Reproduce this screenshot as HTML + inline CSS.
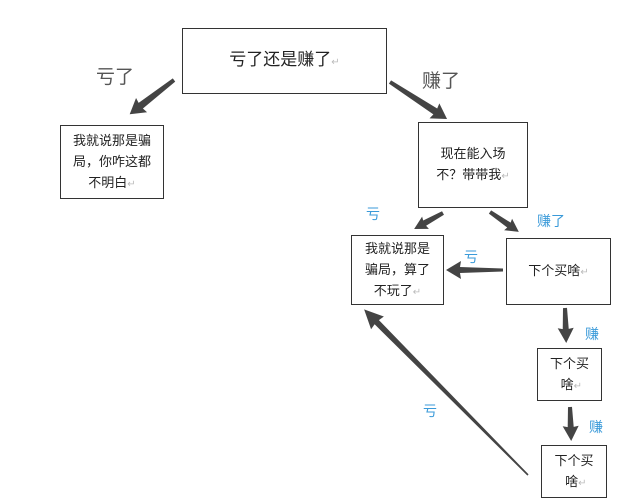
<!DOCTYPE html>
<html><head><meta charset="utf-8"><style>
body{margin:0;background:#fff;width:640px;height:498px;overflow:hidden;position:relative;font-family:"Liberation Sans","Noto Sans CJK SC",sans-serif;color:#222}
.b{position:absolute;border:1.5px solid #333;box-sizing:border-box;background:#fff;font-size:13px;line-height:21px;display:flex;align-items:center;justify-content:center;text-align:center}
.r{color:#bbb;font-size:10px}
.l{position:absolute;font-size:19px;color:#555}
.c{position:absolute;font-size:14px;color:#3a9ad9}
svg{position:absolute;left:0;top:0}
</style></head><body>
<svg width="640" height="498">
<g fill="#444">
<g transform="translate(174,80) rotate(142.3)"><polygon points="0,-2 42,-3.5 41,-9 56,0 41,9 42,3.5 0,2"/></g>
<g transform="translate(390,82) rotate(33)"><polygon points="0,-2 54,-3.5 53,-9 68,0 53,9 54,3.5 0,2"/></g>
<g transform="translate(443,213) rotate(151)"><polygon points="0,-2 21,-3 20,-7 33,0 20,7 21,3 0,2"/></g>
<g transform="translate(490,212) rotate(34.6)"><polygon points="0,-2 23,-3 22,-7 35,0 22,7 23,3 0,2"/></g>
<g transform="translate(503,270) rotate(180)"><polygon points="0,-1.5 43,-3 42,-9 57,0 42,9 43,3 0,1.5"/></g>
<g transform="translate(565,308) rotate(88)"><polygon points="0,-2 21,-3 20,-8 35,0 20,8 21,3 0,2"/></g>
<g transform="translate(570,407) rotate(88)"><polygon points="0,-2 20,-3 19,-8 34,0 19,8 20,3 0,2"/></g>
<g transform="translate(528,475) rotate(225.3)"><polygon points="0,-0.8 215,-3 214,-9 233,0 214,9 215,3 0,0.8"/></g>
</g>
</svg>
<div class="b" style="left:182px;top:28px;width:205px;height:66px;font-size:17px"><div>亏了还是赚了<span class="r">↵</span></div></div>
<div class="b" style="left:60px;top:125px;width:104px;height:74px"><div>我就说那是骗<br>局，你咋这都<br>不明白<span class="r">↵</span></div></div>
<div class="b" style="left:418px;top:122px;width:110px;height:86px"><div>现在能入场<br>不？带带我<span class="r">↵</span></div></div>
<div class="b" style="left:351px;top:235px;width:93px;height:70px"><div>我就说那是<br>骗局，算了<br>不玩了<span class="r">↵</span></div></div>
<div class="b" style="left:506px;top:238px;width:105px;height:67px"><div>下个买啥<span class="r">↵</span></div></div>
<div class="b" style="left:537px;top:348px;width:65px;height:53px"><div>下个买<br>&nbsp;啥<span class="r">↵</span></div></div>
<div class="b" style="left:541px;top:445px;width:66px;height:53px"><div>下个买<br>&nbsp;啥<span class="r">↵</span></div></div>
<div class="l" style="left:96px;top:62px">亏了</div>
<div class="l" style="left:422px;top:66px">赚了</div>
<div class="c" style="left:366px;top:204px">亏</div>
<div class="c" style="left:537px;top:211px">赚了</div>
<div class="c" style="left:464px;top:247px">亏</div>
<div class="c" style="left:585px;top:324px">赚</div>
<div class="c" style="left:589px;top:417px">赚</div>
<div class="c" style="left:423px;top:401px">亏</div>
</body></html>
